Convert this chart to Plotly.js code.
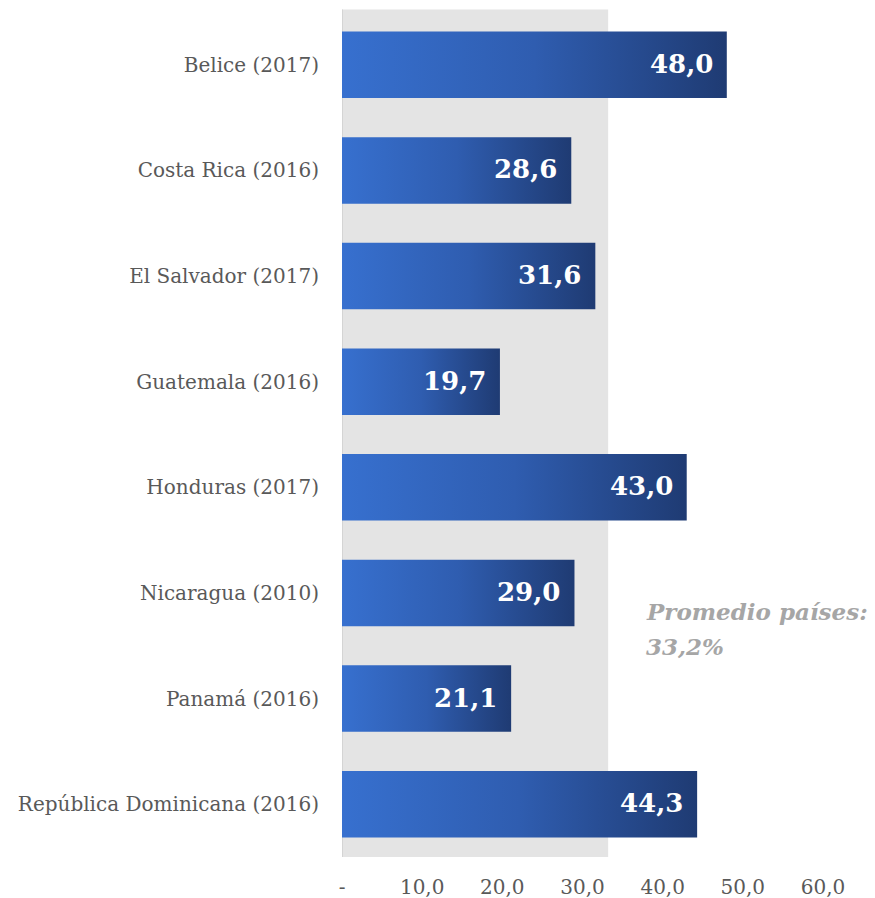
<!DOCTYPE html>
<html>
<head>
<meta charset="utf-8">
<script src="https://cdn.plot.ly/plotly-3.0.1.min.js"></script>
<style>html,body{margin:0;padding:0;background:#fff;}#chart{width:875px;height:898px;}</style>
</head>
<body>
<div id="chart"></div>
<script>
const categories = ["Belice (2017)", "Costa Rica (2016)", "El Salvador (2017)", "Guatemala (2016)", "Honduras (2017)", "Nicaragua (2010)", "Panamá (2016)", "República Dominicana (2016)"];
const values = [48.0, 28.6, 31.6, 19.7, 43.0, 29.0, 21.1, 44.3];
const valueLabels = ["48,0", "28,6", "31,6", "19,7", "43,0", "29,0", "21,1", "44,3"];
const averageValue = 33.2;
const averageLines = ["Promedio países:", "33,2%"];
const tickValues = [0, 10, 20, 30, 40, 50, 60];
const tickLabels = ["-", "10,0", "20,0", "30,0", "40,0", "50,0", "60,0"];

const trace = {
  type: "bar",
  orientation: "h",
  y: categories,
  x: values,
  marker: {color: "#2e5bb0", line: {width: 0}},
  width: 0.63,
  hoverinfo: "none"
};

const labelAnnotations = values.map(function(v, i){
  return {xref: "x", yref: "y", x: v, y: categories[i], xanchor: "right", yanchor: "middle",
          xshift: -12, yshift: 1, showarrow: false, text: "<b>" + valueLabels[i] + "</b>",
          font: {family: "DejaVu Serif", size: 26, color: "#ffffff"}};
});

const averageAnnotations = averageLines.map(function(line, i){
  return {xref: "paper", yref: "y", x: 0.627, y: 5.18 + i * 0.325, xanchor: "left", yanchor: "middle",
          text: "<i><b>" + line + "</b></i>", showarrow: false, align: "left",
          font: {family: "DejaVu Serif", size: 23, color: "#a6a6a6"}};
});

const layout = {
  width: 875, height: 898,
  margin: {l: 342, r: 52, t: 12, b: 41},
  paper_bgcolor: "#ffffff",
  plot_bgcolor: "#ffffff",
  showlegend: false,
  font: {family: "DejaVu Serif", color: "#595959"},
  xaxis: {
    range: [0, 60],
    tickvals: tickValues,
    ticktext: tickLabels,
    showgrid: false,
    zeroline: false,
    showline: false,
    ticks: "",
    ticklabelstandoff: 16,
    tickfont: {family: "DejaVu Serif", size: 20, color: "#595959"},
    fixedrange: true
  },
  yaxis: {
    autorange: "reversed",
    showgrid: false,
    zeroline: false,
    showline: false,
    ticks: "",
    ticklabelstandoff: 22,
    tickfont: {family: "DejaVu Serif", size: 20, color: "#595959"},
    fixedrange: true
  },
  shapes: [
    {type: "rect", xref: "x", yref: "paper", x0: 0, x1: averageValue, y0: 0, y1: 1.003,
     fillcolor: "#e4e4e4", line: {width: 0}, layer: "below"},
    {type: "line", xref: "x", yref: "paper", x0: 0, x1: 0, y0: 0, y1: 1.003,
     line: {color: "#d4d4d4", width: 2}, layer: "below"}
  ],
  annotations: labelAnnotations.concat(averageAnnotations)
};

Plotly.newPlot("chart", [trace], layout, {displayModeBar: false, staticPlot: true}).then(function(gd){
  const svg = gd.querySelector(".main-svg");
  const ns = "http://www.w3.org/2000/svg";
  let defs = svg.querySelector("defs");
  if (!defs) { defs = document.createElementNS(ns, "defs"); svg.insertBefore(defs, svg.firstChild); }
  const grad = document.createElementNS(ns, "linearGradient");
  grad.setAttribute("id", "barGradient");
  grad.setAttribute("x1", "0"); grad.setAttribute("y1", "0");
  grad.setAttribute("x2", "1"); grad.setAttribute("y2", "0");
  [["0", "#3770cf"], ["0.5", "#2f5db0"], ["1", "#1f3b73"]].forEach(function(s){
    const st = document.createElementNS(ns, "stop");
    st.setAttribute("offset", s[0]);
    st.setAttribute("stop-color", s[1]);
    grad.appendChild(st);
  });
  defs.appendChild(grad);
  gd.querySelectorAll(".bars .point path").forEach(function(p){
    p.style.fill = "url(#barGradient)";
  });
});
</script>
</body>
</html>
